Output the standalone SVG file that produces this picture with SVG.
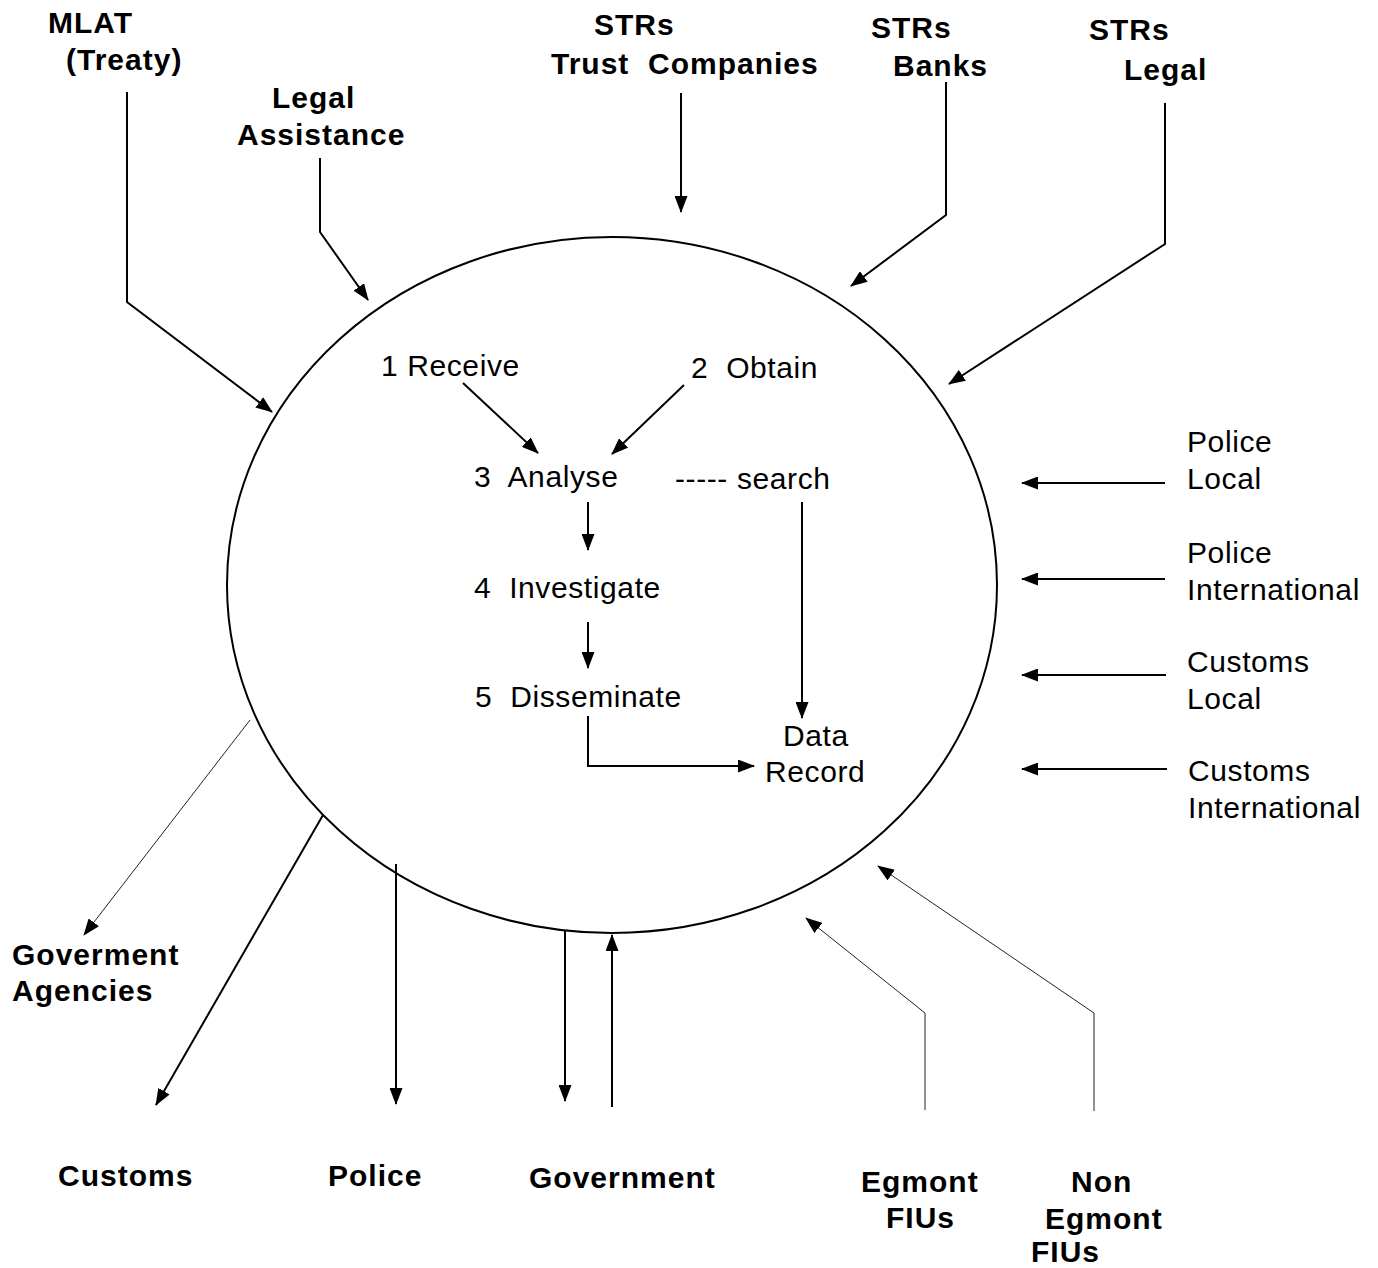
<svg xmlns="http://www.w3.org/2000/svg" width="1378" height="1268" viewBox="0 0 1378 1268">
<style>
.b{font-family:"Liberation Sans",Arial,sans-serif;font-weight:bold;font-size:30px;letter-spacing:1px;fill:#000}
.r{font-family:"Liberation Sans",Arial,sans-serif;font-size:30px;letter-spacing:0.6px;fill:#000}
.c{fill:none;stroke:#000;stroke-width:2}
.t{fill:none;stroke:#222;stroke-width:1}
</style>
<defs>
<marker id="ah" markerUnits="userSpaceOnUse" markerWidth="17" markerHeight="13" refX="16" refY="6.5" orient="auto">
<path d="M0,0 L17,6.5 L0,13 z" fill="#000"/>
</marker>
</defs>
<rect width="1378" height="1268" fill="#fff"/>
<g id="fiu">
<ellipse cx="612" cy="585" rx="385" ry="348" fill="none" stroke="#000" stroke-width="2"/>
</g>
<g id="mlat"><text class="b" x="48" y="33">MLAT</text><text class="b" x="66" y="70">(Treaty)</text></g>
<g id="legal-assistance"><text class="b" x="272" y="108">Legal</text><text class="b" x="237" y="145">Assistance</text></g>
<g id="strs-trust"><text class="b" x="594" y="35">STRs</text><text class="b" x="551" y="74" xml:space="preserve">Trust  Companies</text></g>
<g id="strs-banks"><text class="b" x="871" y="38">STRs</text><text class="b" x="893" y="76">Banks</text></g>
<g id="strs-legal"><text class="b" x="1089" y="40">STRs</text><text class="b" x="1124" y="80">Legal</text></g>
<g id="police-local"><text class="r" x="1187" y="452">Police</text><text class="r" x="1187" y="489">Local</text></g>
<g id="police-international"><text class="r" x="1187" y="563">Police</text><text class="r" x="1187" y="600">International</text></g>
<g id="customs-local"><text class="r" x="1187" y="672">Customs</text><text class="r" x="1187" y="709">Local</text></g>
<g id="customs-international"><text class="r" x="1188" y="781">Customs</text><text class="r" x="1188" y="818">International</text></g>
<g id="gov-agencies"><text class="b" x="12" y="965">Goverment</text><text class="b" x="12" y="1001">Agencies</text></g>
<g id="customs"><text class="b" x="58" y="1186">Customs</text></g>
<g id="police"><text class="b" x="328" y="1186">Police</text></g>
<g id="government"><text class="b" x="529" y="1188">Government</text></g>
<g id="egmont"><text class="b" x="861" y="1192">Egmont</text><text class="b" x="886" y="1228">FIUs</text></g>
<g id="non-egmont"><text class="b" x="1071" y="1192">Non</text><text class="b" x="1045" y="1229">Egmont</text><text class="b" x="1031" y="1262">FIUs</text></g>
<g id="receive"><text class="r" x="381" y="376">1 Receive</text></g>
<g id="obtain"><text class="r" x="691" y="378" xml:space="preserve">2  Obtain</text></g>
<g id="analyse"><text class="r" x="474" y="487" xml:space="preserve">3  Analyse</text></g>
<g id="search"><text class="r" x="675" y="489">----- search</text></g>
<g id="investigate"><text class="r" x="474" y="598" xml:space="preserve">4  Investigate</text></g>
<g id="disseminate"><text class="r" x="475" y="707" xml:space="preserve">5  Disseminate</text></g>
<g id="data-record"><text class="r" x="783" y="746">Data</text><text class="r" x="765" y="782">Record</text></g>
<g id="connectors">
<polyline class="c" points="127,92 127,302 272,412" marker-end="url(#ah)"/>
<polyline class="c" points="320,158 320,232 368,300" marker-end="url(#ah)"/>
<polyline class="c" points="681,93 681,212" marker-end="url(#ah)"/>
<polyline class="c" points="946,82 946,215 851,286" marker-end="url(#ah)"/>
<polyline class="c" points="1165,103 1165,244 949,384" marker-end="url(#ah)"/>
<line class="c" x1="1165" y1="483" x2="1022" y2="483" marker-end="url(#ah)"/>
<line class="c" x1="1165" y1="579" x2="1022" y2="579" marker-end="url(#ah)"/>
<line class="c" x1="1166" y1="675" x2="1022" y2="675" marker-end="url(#ah)"/>
<line class="c" x1="1167" y1="769" x2="1022" y2="769" marker-end="url(#ah)"/>
<polyline class="t" points="925,1110 925,1013 806,918" marker-end="url(#ah)"/>
<polyline class="t" points="1094,1111 1094,1013 878,866" marker-end="url(#ah)"/>
<line class="c" x1="612" y1="1107" x2="612" y2="935" marker-end="url(#ah)"/>
<line class="c" x1="565" y1="930" x2="565" y2="1101" marker-end="url(#ah)"/>
<line class="c" x1="396" y1="864" x2="396" y2="1104" marker-end="url(#ah)"/>
<line class="c" x1="323" y1="815" x2="156" y2="1105" marker-end="url(#ah)"/>
<line class="t" x1="250" y1="720" x2="84" y2="935" marker-end="url(#ah)"/>
<line class="c" x1="463" y1="383" x2="538" y2="453" marker-end="url(#ah)"/>
<line class="c" x1="684" y1="385" x2="612" y2="454" marker-end="url(#ah)"/>
<line class="c" x1="588" y1="502" x2="588" y2="550" marker-end="url(#ah)"/>
<line class="c" x1="588" y1="622" x2="588" y2="668" marker-end="url(#ah)"/>
<line class="c" x1="802" y1="502" x2="802" y2="718" marker-end="url(#ah)"/>
<polyline class="c" points="588,716 588,766 754,766" marker-end="url(#ah)"/>
</g>
</svg>
